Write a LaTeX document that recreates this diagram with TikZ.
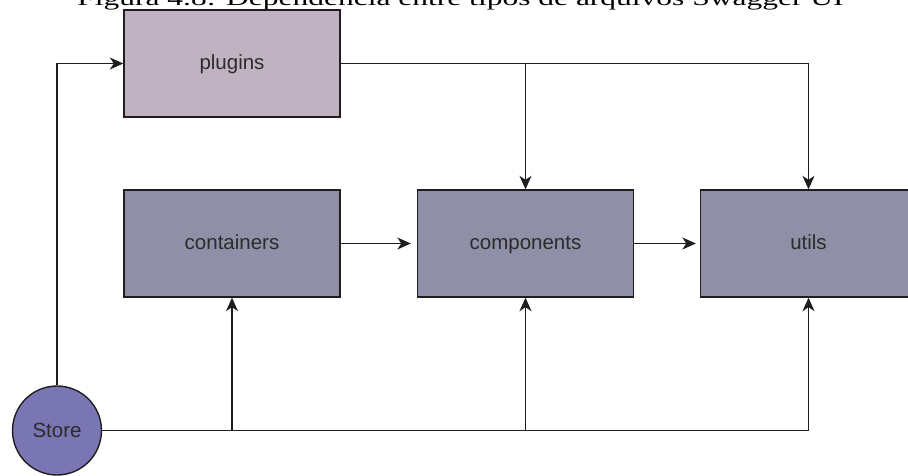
\documentclass[tikz,border=0pt]{standalone}
\usepackage{fontspec}
\setmainfont{Liberation Serif}
\newfontfamily\labelfont{Liberation Sans}
\usetikzlibrary{arrows.meta}

\definecolor{pluginfill}{HTML}{C0B2C0}
\definecolor{boxfill}{HTML}{8F8FA8}
\definecolor{storefill}{HTML}{7A76B4}
\definecolor{edgecol}{HTML}{1E1E1E}
\definecolor{labelcol}{HTML}{2C2C2C}

\tikzset{
  modbox/.style={draw=edgecol, line width=1.4pt, minimum width=216pt,
    minimum height=107pt, inner sep=0pt, text height=15pt, text depth=4pt,
    font=\labelfont\fontsize{20.5}{24}\selectfont, text=labelcol},
  storenode/.style={circle, draw=edgecol, line width=1.4pt, fill=storefill,
    minimum size=89pt, inner sep=0pt, font=\labelfont\fontsize{20.5}{24}\selectfont,
    text=labelcol},
  wire/.style={draw=edgecol, line width=1.5pt},
  arr/.style={wire, -{Stealth[length=13.5pt,width=12pt,inset=4pt]}},
}

\begin{document}
\begin{tikzpicture}[x=1pt, y=-1pt]
  \useasboundingbox (0,0) rectangle (908,475);
  \clip (0,0) rectangle (908,475);

  % caption, cut by the top edge
  \node[anchor=base, inner sep=0pt, font=\fontsize{31.5}{36}\selectfont] (title)
    at (460.5,5.5) {\scalebox{1}[0.68]{Figura 4.8: Dependência entre tipos de arquivos Swagger UI}};

  % modules
  \node[modbox, fill=pluginfill] (plugins)    at (232,63.5)  {plugins};
  \node[modbox, fill=boxfill]    (containers) at (232,243.5) {containers};
  \node[modbox, fill=boxfill]    (components) at (525.5,243.5) {components};
  \node[modbox, fill=boxfill]    (utils)      at (808.5,243.5) {utils};
  \node[storenode]               (store)      at (57,430.5)  {Store};

  % junctions on the shared buses
  \coordinate (jtop)  at (components.north |- plugins.east);
  \coordinate (jcont) at (containers.south |- store.east);
  \coordinate (jcomp) at (components.south |- store.east);

  % store feeds plugins
  \draw[arr] (store.north) |- (plugins.west);

  % plugins bus
  \draw[arr] (plugins.east) -| (utils.north);
  \draw[arr] (jtop) -- (components.north);

  % chain between modules
  \draw[arr] (containers.east) -- ([xshift=-6pt]components.west);
  \draw[arr] (components.east) -- ([xshift=-4pt]utils.west);

  % store bus
  \draw[arr] (store.east) -| (utils.south);
  \draw[arr] (jcont) -- (containers.south);
  \draw[arr] (jcomp) -- (components.south);
\end{tikzpicture}
\end{document}
